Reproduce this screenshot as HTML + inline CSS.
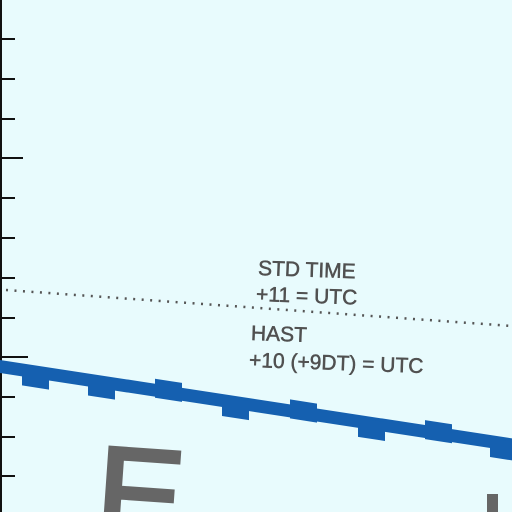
<!DOCTYPE html>
<html><head><meta charset="utf-8"><style>
html,body{margin:0;padding:0;background:#e8fbfd;overflow:hidden;width:512px;height:512px}
svg{display:block}
text{font-family:"Liberation Sans",sans-serif;fill:#505050}
</style></head><body>
<svg id="map" width="512" height="512" viewBox="0 0 512 512">
<rect x="0" y="0" width="512" height="512" fill="#e8fbfd"/>
<g id="ticks"><line x1="1" y1="0" x2="1" y2="512" stroke="#111" stroke-width="2"/></g>
<line x1="6" y1="290" x2="512" y2="326" stroke="#555" stroke-width="2.5" stroke-dasharray="2 6.5"/>
<g id="band"></g>
<g transform="rotate(2 258 270)">
<text x="258" y="275" font-size="21" stroke="#505050" stroke-width="0.5">STD TIME</text>
<text x="257" y="301" font-size="21" stroke="#505050" stroke-width="0.5">+11 = UTC</text>
</g>
<g transform="rotate(2 252 333)">
<text x="251" y="340" font-size="21" stroke="#505050" stroke-width="0.5">HAST</text>
<text x="250" y="367" font-size="21" stroke="#505050" stroke-width="0.5">+10 (+9DT) = UTC</text>
</g>
<text x="96" y="540" font-size="132" stroke="#666" stroke-width="4" style="fill:#666" transform="rotate(4 130 500)">E</text>
<rect x="487" y="494" width="11" height="20" fill="#666"/>
</svg>
<script>
const tickYs=[39,79,119,158,198,238,278,318,357,397,437,476];
const tickLens=[15,15,15,23,15,15,15,15,28,15,15,15];
const blockXs=[22,88,155,222,290,358,425,490];
const blockDirs=[1,1,-1,1,-1,1,-1,1];
const NS='http://www.w3.org/2000/svg';
const tg=document.getElementById('ticks');
tickYs.forEach((y,i)=>{const l=document.createElementNS(NS,'line');


l.setAttribute('x1',0);l.setAttribute('x2',tickLens[i]);l.setAttribute('y1',y);l.setAttribute('y2',y);
l.setAttribute('stroke','#111');l.setAttribute('stroke-width','2');tg.appendChild(l);});
const bg=document.getElementById('band');
const y0=366,slope=0.153;
const p=document.createElementNS(NS,'polygon');


p.setAttribute('points',`0,${y0-6} 512,${y0-6+512*slope} 512,${y0+7+512*slope} 0,${y0+7}`);
p.setAttribute('fill','#1560b0');bg.appendChild(p);
blockXs.forEach((x,i)=>{const w=27,yc=y0+slope*(x+w/2);
const r=document.createElementNS(NS,'polygon');


const off=blockDirs[i]>0?4:-4;
const t=yc-9+off,b=yc+10+off;
r.setAttribute('points',`${x},${t} ${x+w},${t+w*slope} ${x+w},${b+w*slope} ${x},${b}`);
r.setAttribute('fill','#1560b0');bg.appendChild(r);});
</script>
</body></html>
